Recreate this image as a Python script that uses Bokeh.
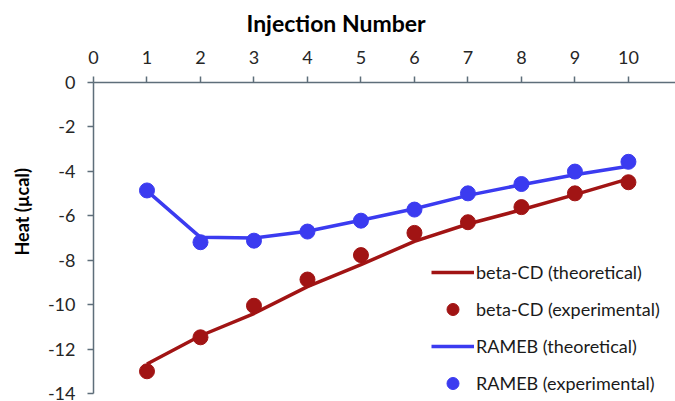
from bokeh.plotting import figure
from bokeh.models import Range1d, FixedTicker, Legend, LegendItem, Title
from bokeh.embed import file_html
from bokeh.resources import INLINE

# ---- data ----
injections = [1, 2, 3, 4, 5, 6, 7, 8, 9, 10]
beta_theoretical = [-12.67, -11.40, -10.40, -9.19, -8.20, -7.15, -6.37, -5.73, -5.05, -4.34]
beta_experimental = [-13.00, -11.47, -10.05, -8.87, -7.77, -6.77, -6.29, -5.61, -4.99, -4.49]
rameb_theoretical = [-4.88, -6.97, -7.00, -6.70, -6.20, -5.68, -5.08, -4.60, -4.15, -3.77]
rameb_experimental = [-4.86, -7.19, -7.12, -6.71, -6.22, -5.72, -4.99, -4.57, -4.01, -3.57]
x_ticks = [0, 1, 2, 3, 4, 5, 6, 7, 8, 9, 10]
y_ticks = [0, -2, -4, -6, -8, -10, -12, -14]
legend_labels = ["beta-CD (theoretical)", "beta-CD (experimental)",
                 "RAMEB (theoretical)", "RAMEB (experimental)"]
x_title = "Injection Number"
y_title = "Heat (\u00b5cal)"

RED = "#A11414"
BLUE = "#3B3BF0"
AXIS = "#5E6E7A"
FONT = "Lato"

p = figure(width=675, height=401, output_backend="svg", toolbar_location=None,
           x_range=Range1d(0, 10.88), y_range=Range1d(-14, 0),
           x_axis_location="above",
           min_border_left=93, min_border_top=82, min_border_bottom=8, min_border_right=0)
p.outline_line_color = None
p.xgrid.visible = False
p.ygrid.visible = False
p.background_fill_color = "white"
p.border_fill_color = "white"

for ax, ticks, standoff in ((p.xaxis[0], x_ticks, 13), (p.yaxis[0], y_ticks, 12)):
    ax.ticker = FixedTicker(ticks=ticks)
    ax.major_label_overrides = {t: str(t) for t in ticks}
    ax.axis_line_color = AXIS
    ax.axis_line_width = 1.5
    ax.major_tick_line_color = AXIS
    ax.major_tick_line_width = 1.5
    ax.major_tick_out = 6
    ax.major_tick_in = 0
    ax.minor_tick_line_color = None
    ax.major_label_text_font = FONT
    ax.major_label_text_font_size = "18px"
    ax.major_label_text_color = "#262626"
    ax.major_label_standoff = standoff

r_bt = p.line(injections, beta_theoretical, line_color=RED, line_width=3.5)
r_rt = p.line(injections, rameb_theoretical, line_color=BLUE, line_width=3.5)
r_be = p.scatter(injections, beta_experimental, size=15, marker="circle",
                 fill_color=RED, line_color=RED)
r_re = p.scatter(injections, rameb_experimental, size=15, marker="circle",
                 fill_color=BLUE, line_color=BLUE)

legend = Legend(items=[
    LegendItem(label=legend_labels[0], renderers=[r_bt]),
    LegendItem(label=legend_labels[1], renderers=[r_be]),
    LegendItem(label=legend_labels[2], renderers=[r_rt]),
    LegendItem(label=legend_labels[3], renderers=[r_re]),
], location=(338, -5))
legend.glyph_width = 43
legend.glyph_height = 30
legend.spacing = 7
legend.padding = 0
legend.margin = 0
legend.label_standoff = 2
legend.label_text_font = FONT
legend.label_text_font_size = "18px"
legend.label_text_color = "#1a1a1a"
legend.border_line_color = None
legend.background_fill_alpha = 0
p.add_layout(legend, "center")

p.add_layout(Title(text=x_title, align="left", offset=153, standoff=17,
                   vertical_align="top",
                   text_font=FONT, text_font_style="bold", text_font_size="23px",
                   text_color="black"), "above")
p.add_layout(Title(text=y_title, align="left", offset=138, standoff=20,
                   vertical_align="top",
                   text_font=FONT, text_font_style="bold", text_font_size="18px",
                   text_color="black"), "left")

open("out.html", "w").write(file_html(p, INLINE))
